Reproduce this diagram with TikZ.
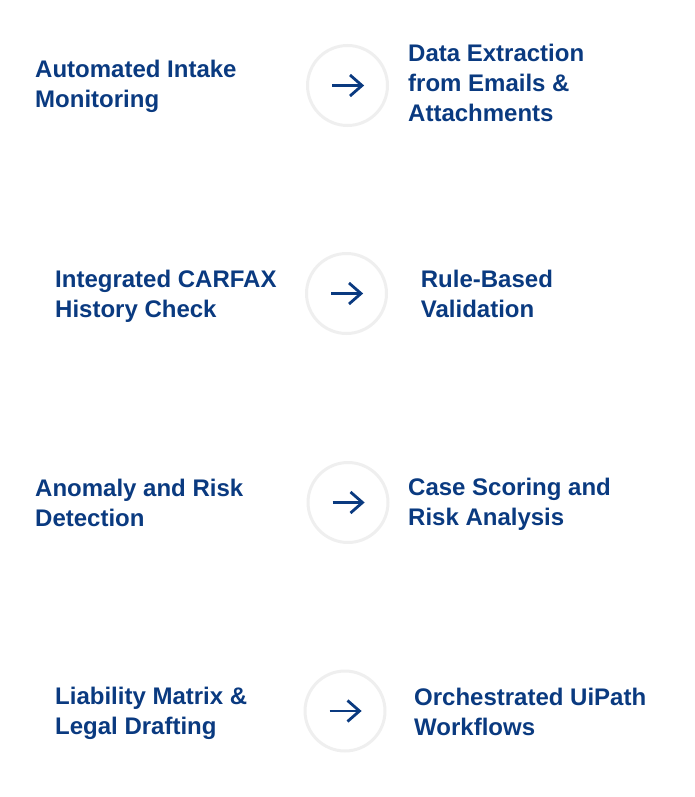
\documentclass[tikz,border=0pt]{standalone}
\usepackage{fontspec}
\setmainfont{Liberation Sans}
\definecolor{navy}{RGB}{10,58,128}
\definecolor{ring}{RGB}{239,239,239}
\tikzset{
  lbl/.style={anchor=base west, inner sep=0pt, text=navy, align=left,
    font=\fontsize{24}{30}\selectfont\bfseries},
  ringnode/.style={circle, draw=ring, line width=3pt, fill=white,
    minimum size=80pt, inner sep=0pt},
  arr/.style={draw=navy, line width=2.8pt, line join=miter}
}
\newcommand{\flowarrow}[1]{%
  \draw[arr] ([xshift=-15.5pt]#1.center) -- ([xshift=14.5pt]#1.center);
  \draw[arr] ([xshift=2.5pt,yshift=10.5pt]#1.center) -- ([xshift=14.5pt]#1.center)
     -- ([xshift=2.5pt,yshift=-10.5pt]#1.center);}
\begin{document}
\begin{tikzpicture}[x=1pt,y=-1pt]
\useasboundingbox (0,0) rectangle (695,797);
% row 1  (node positions are the baseline of the LAST line)
\node[ringnode] (c1) at (347.5,85.5) {};
\flowarrow{c1}
\node[lbl] (l1) at (35,107.3) {Automated Intake\\Monitoring};
\node[lbl] (r1) at (408,121.7) {Data Extraction\\from Emails \&\\Attachments};
% row 2
\node[ringnode] (c2) at (346.5,293.5) {};
\flowarrow{c2}
\node[lbl] (l2) at (55,317.7) {Integrated CARFAX\\History Check};
\node[lbl] (r2) at (420.7,317.7) {Rule-Based\\Validation};
% row 3
\node[ringnode] (c3) at (348,502.5) {};
\flowarrow{c3}
\node[lbl] (l3) at (35,526.7) {Anomaly and Risk\\Detection};
\node[lbl] (r3) at (408,525.7) {Case Scoring and\\Risk Analysis};
% row 4
\node[ringnode] (c4) at (345,711) {};
\flowarrow{c4}
\node[lbl] (l4) at (55,734.3) {Liability Matrix \&\\Legal Drafting};
\node[lbl] (r4) at (414,735) {Orchestrated UiPath\\Workflows};
\end{tikzpicture}
\end{document}
